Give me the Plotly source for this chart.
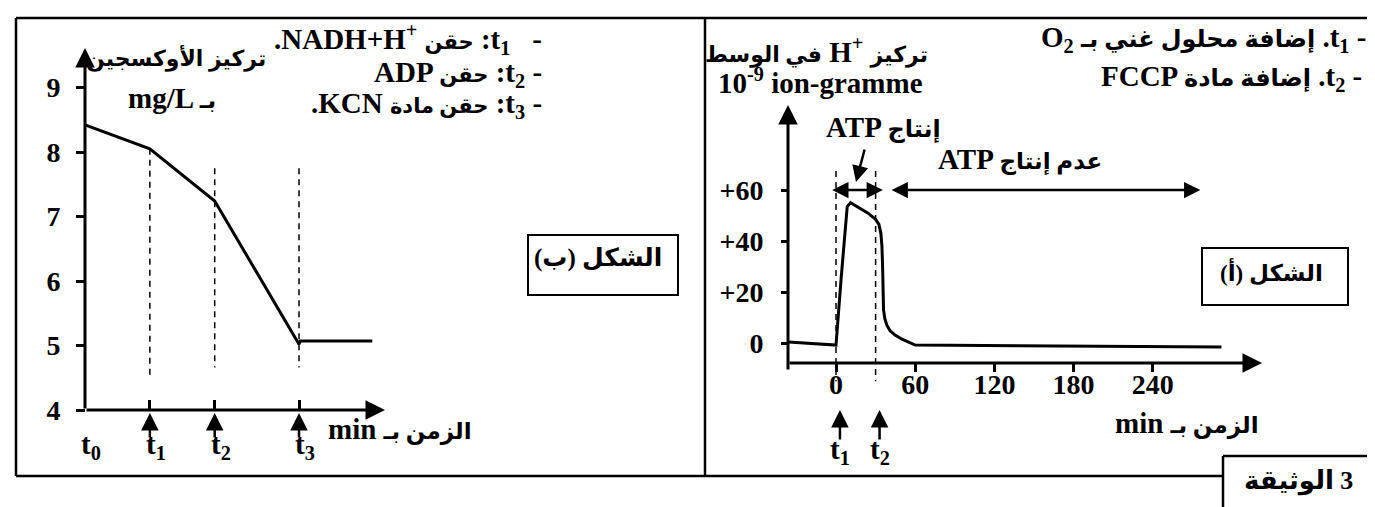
import plotly.graph_objects as go

W, H = 1375, 507
FONT = "'Liberation Serif', 'Times New Roman', 'DejaVu Sans', serif"

# ── Figure (b): dissolved oxygen ─────────────────────────────────────────────
T_B = [0, 1, 2, 3.3]                      # t0 .. t3
T_B_LABELS = ["t<sub>0</sub>", "t<sub>1</sub>", "t<sub>2</sub>", "t<sub>3</sub>"]
O2_TIME = [0, 1, 2, 3.3, 3.32, 4.43]
O2_MG_L = [8.42, 8.05, 7.24, 5.02, 5.07, 5.07]
O2_TICKS = [4, 5, 6, 7, 8, 9]
DASH_TOP_B = [8.05, 7.75, 7.75]
DASH_BOTTOM_B = [4.53, 4.66, 4.66]

# ── Figure (a): H+ concentration in the medium ───────────────────────────────
H_TIME = [-36, 0, 4, 8.5, 11, 17, 24, 30, 32.5, 34, 34.8, 35.3, 35.6, 36,
          37, 38.5, 41, 45, 50, 55, 60, 292]
H_CONC = [0.4, -0.8, 26, 53.5, 55, 53, 51, 48.5, 46.5, 43, 38, 30, 20, 13,
          9.5, 7, 4.8, 3, 1.5, 0.3, -0.8, -1.6]
T_A = [0, 30]
T_A_LABELS = ["t<sub>1</sub>", "t<sub>2</sub>"]
H_TICKS = [0, 20, 40, 60]
H_TICKTEXT = ["0", "+20", "+40", "+60"]
MIN_TICKS = [0, 60, 120, 180, 240]
ATP_ON = [-4, 35.5]
ATP_OFF = [41, 276]
ARROW_LEVEL = 60
DASH_TOP_A = 67.5
DASH_BOTTOM_A = -15

# pixel scales of the two panels
KX_B, X0_B = 64.85, 77      # px per unit, px of t0
KY_B, Y0_B = 64.5, 402      # px per mg/L, px of 4 mg/L
KX_A, X0_A = 1.32, 828      # px per min, px of 0 min
KY_A, Y0_A = 2.55, 335      # px per unit, px of 0


def bx(px):
    return (px - X0_B) / KX_B


def by(py):
    return 4 + (Y0_B - py) / KY_B


def ax_(px):
    return (px - X0_A) / KX_A


def ay_(py):
    return (Y0_A - py) / KY_A


def bold(size):
    return dict(family=FONT, size=size, color="black", weight="bold")


def ar(text, size):
    # Arabic run at its own size
    return f'<span style="font-size:{size}px">{text}</span>'


def label(text, px, py, size=29, xanchor="center", yanchor="middle"):
    return dict(xref="paper", yref="paper", x=px / W, y=1 - py / H, text=text,
                showarrow=False, xanchor=xanchor, yanchor=yanchor, font=bold(size))


def arrow(xr, yr, x, y, x_from, y_from, width=3, size=1.3, both=False):
    return dict(xref=xr, yref=yr, axref=xr, ayref=yr, x=x, y=y, ax=x_from, ay=y_from,
                text="", showarrow=True, arrowhead=2, arrowsize=size, arrowwidth=width,
                arrowcolor="black", arrowside="end+start" if both else "end",
                startarrowhead=2, startarrowsize=size)


fig = go.Figure()

# oxygen curve
fig.add_trace(go.Scatter(x=O2_TIME, y=O2_MG_L, mode="lines", xaxis="x", yaxis="y",
                         line=dict(color="black", width=3), hoverinfo="skip"))
for t, top, bot in zip(T_B[1:], DASH_TOP_B, DASH_BOTTOM_B):
    fig.add_trace(go.Scatter(x=[t, t], y=[top, bot], mode="lines", xaxis="x", yaxis="y",
                             line=dict(color="black", width=1.5, dash="6px,5px"),
                             hoverinfo="skip"))

# H+ curve
fig.add_trace(go.Scatter(x=H_TIME, y=H_CONC, mode="lines", xaxis="x2", yaxis="y2",
                         line=dict(color="black", width=3), hoverinfo="skip"))
for t in T_A:
    fig.add_trace(go.Scatter(x=[t, t], y=[DASH_TOP_A, DASH_BOTTOM_A], mode="lines",
                             xaxis="x2", yaxis="y2",
                             line=dict(color="black", width=1.5, dash="6px,5px"),
                             hoverinfo="skip"))

ann = []
# axes with arrow heads
ann.append(arrow("x", "y", 0, by(40), 0, 4))
ann.append(arrow("x", "y", bx(377), 4, 0, 4))
ann.append(arrow("x2", "y2", ax_(780), ay_(97), ax_(780), ay_(363)))
ann.append(arrow("x2", "y2", ax_(1254), ay_(355), ax_(780), ay_(355)))

# event arrows under the time axes
for t in T_B[1:]:
    ann.append(arrow("x", "y", t, by(405), t, by(431), width=2.5, size=1.4))
for t, lab in zip(T_B, T_B_LABELS):
    ann.append(dict(xref="x", yref="paper", x=t, y=1 - 458 / H, text=lab, showarrow=False,
                    xanchor="left", xshift=-6, font=bold(29)))
for t in T_A:
    ann.append(arrow("x2", "y2", t + 3, ay_(402), t + 3, ay_(433), width=2.5, size=1.4))
for t, lab in zip(T_A, T_A_LABELS):
    ann.append(dict(xref="x2", yref="paper", x=t, y=1 - 463 / H, text=lab, showarrow=False,
                    xanchor="center", xshift=4, font=bold(29)))

# ATP production arrows
ann.append(arrow("x2", "y2", ATP_ON[1], ARROW_LEVEL, ATP_ON[0], ARROW_LEVEL, width=2.5, both=True))
ann.append(arrow("x2", "y2", ATP_OFF[1], ARROW_LEVEL, ATP_OFF[0], ARROW_LEVEL, width=2.5, both=True))
ann.append(arrow("x2", "y2", ax_(848), ay_(174), ax_(857), ay_(140), width=2.5))

# texts — panel (b)
ann.append(label(ar("تركيز الأوكسجين", 22), 168, 50))
ann.append(label("mg/L " + ar("بـ", 23), 164, 90))
ann.append(label(".NADH+H<sup>+</sup> " + ar("حقن", 21) + " :t<sub>1</sub>&nbsp;&nbsp;&nbsp;-",
                 536, 31, xanchor="right"))
ann.append(label("ADP " + ar("حقن", 21) + " :t<sub>2</sub> -", 536, 66, xanchor="right"))
ann.append(label(".KCN " + ar("حقن مادة", 21) + " :t<sub>3</sub> -", 536, 97, xanchor="right"))
ann.append(label("min " + ar("الزمن بـ", 23), 318, 421, xanchor="left"))
ann.append(label(ar("الشكل (ب)\u200f", 25), 590, 250))

# texts — panel (a)
ann.append(label(ar("في الوسط", 22) + " H<sup>+</sup> " + ar("تركيز", 22), 808, 42))
ann.append(label("10<sup>-9</sup> ion-gramme", 812, 73))
ann.append(label("ATP " + ar("إنتاج", 24), 876, 119))
ann.append(label("ATP " + ar("عدم إنتاج", 23), 1012, 151))
ann.append(label("O<sub>2</sub> " + ar("إضافة محلول غني بـ", 24) + " .t<sub>1</sub> -",
                 1360, 31, xanchor="right"))
ann.append(label("FCCP " + ar("إضافة مادة", 24) + " .t<sub>2</sub> -",
                 1356, 70, xanchor="right"))
ann.append(label("min " + ar("الزمن بـ", 23), 1253, 415, xanchor="right"))
ann.append(label(ar("الشكل (أ)\u200f", 23), 1263, 263))
ann.append(label(ar("الوثيقة \u200e3", 26), 1290, 473))

# frames
LW = 2.5
shapes = []


def seg(x0, y0, x1, y1, w=LW):
    shapes.append(dict(type="line", xref="paper", yref="paper",
                       x0=x0 / W, y0=1 - y0 / H, x1=x1 / W, y1=1 - y1 / H,
                       line=dict(color="black", width=w)))


seg(8, 10, 1373, 10)
seg(8, 10, 8, 468)
seg(8, 468, 1215, 468)
seg(697, 10, 697, 468)
seg(1373, 10, 1373, 507)
seg(1215, 448, 1373, 448)
seg(1215, 448, 1215, 507)
# "الشكل" boxes
for x0, y0, x1, y1 in [(520, 227, 670, 287), (1194, 240, 1340, 297)]:
    shapes.append(dict(type="rect", xref="paper", yref="paper",
                       x0=x0 / W, y0=1 - y1 / H, x1=x1 / W, y1=1 - y0 / H,
                       line=dict(color="black", width=2)))

axis_common = dict(showgrid=False, zeroline=False, showline=False, anchor="free",
                   tickcolor="black", tickwidth=3, tickfont=bold(28), fixedrange=True)

fig.update_layout(
    width=W, height=H,
    margin=dict(l=0, r=0, t=0, b=0),
    paper_bgcolor="white", plot_bgcolor="rgba(0,0,0,0)",
    showlegend=False,
    xaxis=dict(domain=[40 / W, 460 / W], range=[bx(40), bx(460)],
               position=1 - Y0_B / H, tickvals=T_B[1:], ticks="inside", ticklen=10,
               showticklabels=False, **axis_common),
    yaxis=dict(domain=[1 - 460 / H, 1 - 20 / H], range=[by(460), by(20)],
               position=77 / W, tickvals=O2_TICKS, ticks="outside", ticklen=9,
               ticklabelstandoff=10, **axis_common),
    xaxis2=dict(domain=[700 / W, 1370 / W], range=[ax_(700), ax_(1370)],
                position=1 - 355 / H, tickvals=MIN_TICKS, ticks="outside", ticklen=8,
                ticklabelstandoff=-12, **axis_common),
    yaxis2=dict(domain=[1 - 460 / H, 1 - 20 / H], range=[ay_(460), ay_(20)],
                position=780 / W, tickvals=H_TICKS, ticktext=H_TICKTEXT,
                ticks="outside", ticklen=7, ticklabelstandoff=12, **axis_common),
    annotations=ann,
    shapes=shapes,
)

fig.write_html("out.html")
